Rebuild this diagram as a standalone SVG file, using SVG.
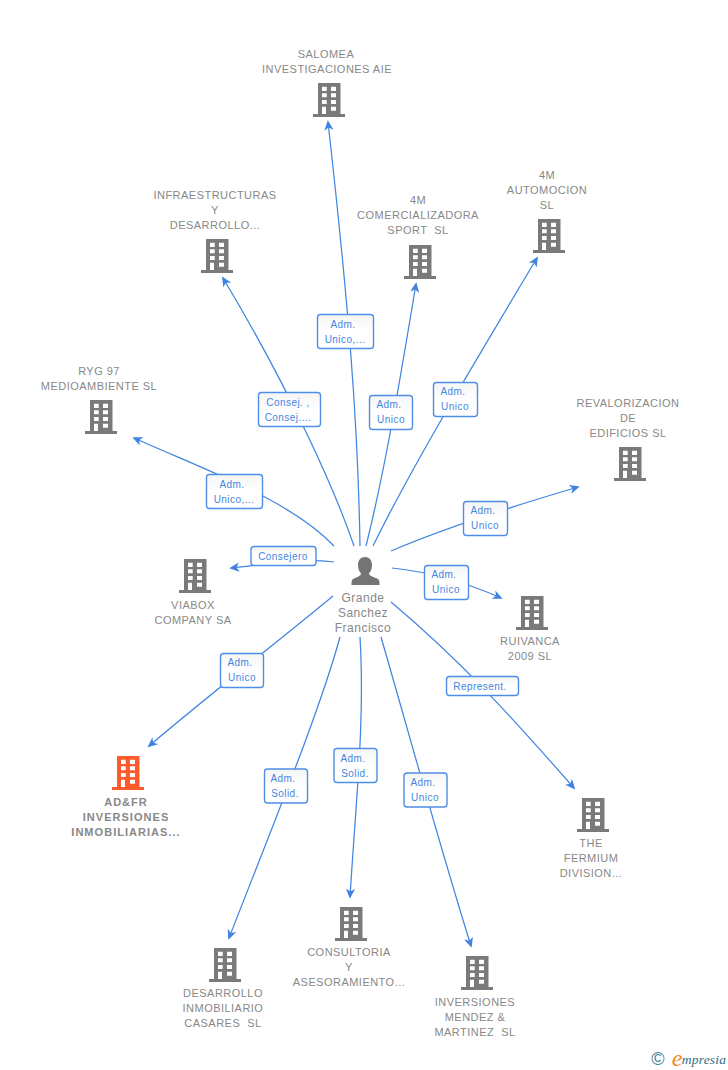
<svg xmlns="http://www.w3.org/2000/svg" width="728" height="1070" viewBox="0 0 728 1070">
<style>
text{font-family:"Liberation Sans",Arial,sans-serif;font-size:11px;fill:#888;text-anchor:middle;letter-spacing:.47px;white-space:pre}
.b{font-weight:bold;letter-spacing:1.03px}
.p{font-size:12px;letter-spacing:.5px}
.c path{fill:none;stroke:#4085e2;stroke-width:1.25}
.a{fill:#3f82e0;stroke:none}
.l rect{fill:url(#g);stroke:#4f8ee6;stroke-width:1.4}
.l text{font-size:10px;fill:#4486e2;letter-spacing:.45px}
</style>
<defs>
<linearGradient id="g" x1="0" y1="0" x2="0" y2="1"><stop offset="0" stop-color="#f5f5f5"/><stop offset=".5" stop-color="#fff"/></linearGradient>
<path id="h" fill-rule="evenodd" d="M-11 0H11.500V31H16V34H-16V31H-11ZM-7 3.700V8H-2.300V3.700ZM2 3.700V8H7V3.700ZM-7 10.300V14.300H-2.300V10.300ZM2 10.300V14.300H7V10.300ZM-7 17V21H-2.300V17ZM2 17V21H7V17ZM-7 23.700V31H-3V23.700ZM2 23.700V27.700H7V23.700Z"/>
<marker id="m" viewBox="0 0 12 12" refX="9" refY="6" markerWidth="11" markerHeight="11" markerUnits="userSpaceOnUse" orient="auto"><path class="a" d="M0 1L11 6L0 11L3 6Z"/></marker>
</defs>
<g class="c">
<path marker-end="url(#m)" d="M360 546C358 420 348 300 328 122"/>
<path marker-end="url(#m)" d="M354 546C335 490 290 390 223 278"/>
<path marker-end="url(#m)" d="M366 546C385 470 400 380 416 284"/>
<path marker-end="url(#m)" d="M373 546C410 470 470 370 537 258"/>
<path marker-end="url(#m)" d="M334 546C290 500 210 472 134 438"/>
<path marker-end="url(#m)" d="M391 551C440 530 500 510 578 487"/>
<path marker-end="url(#m)" d="M334 562C300 558 270 564 231 568"/>
<path marker-end="url(#m)" d="M392 568C430 572 465 582 501 598"/>
<path marker-end="url(#m)" d="M333 596C280 640 215 690 149 746"/>
<path marker-end="url(#m)" d="M391 602C460 660 510 715 574 788"/>
<path marker-end="url(#m)" d="M340 637C320 710 275 820 229 938"/>
<path marker-end="url(#m)" d="M360 637C365 720 356 800 350 897"/>
<path marker-end="url(#m)" d="M381 637C408 730 438 840 471 946"/>
</g>
<g class="l">
<g><rect x="317.500" y="314.500" width="56" height="34" rx="3"/><text x="343" y="328">Adm.</text><text x="345" y="343">Unico,...</text></g>
<g><rect x="258.500" y="392.500" width="62" height="34" rx="3"/><text x="288" y="406">Consej. ,</text><text x="288" y="421">Consej....</text></g>
<g><rect x="369.500" y="395.500" width="43" height="34" rx="3"/><text x="389" y="408">Adm.</text><text x="391" y="423">Unico</text></g>
<g><rect x="433.500" y="382.500" width="44" height="34" rx="3"/><text x="453" y="395">Adm.</text><text x="455" y="410">Unico</text></g>
<g><rect x="206.500" y="474.500" width="56" height="34" rx="3"/><text x="232" y="488">Adm.</text><text x="234" y="503">Unico,...</text></g>
<g><rect x="463.500" y="501.500" width="44" height="34" rx="3"/><text x="483" y="514">Adm.</text><text x="485" y="529">Unico</text></g>
<g><rect x="251" y="546.500" width="65" height="19" rx="3"/><text x="283" y="560">Consejero</text></g>
<g><rect x="424.500" y="565.500" width="44" height="34" rx="3"/><text x="444" y="578">Adm.</text><text x="446" y="593">Unico</text></g>
<g><rect x="220.500" y="653.500" width="43" height="34" rx="3"/><text x="240" y="666">Adm.</text><text x="242" y="681">Unico</text></g>
<g><rect x="446.500" y="676.500" width="72" height="19" rx="3"/><text x="480" y="690">Represent.</text></g>
<g><rect x="264.500" y="769" width="43" height="34" rx="3"/><text x="283" y="782">Adm.</text><text x="285" y="797">Solid.</text></g>
<g><rect x="334" y="748.500" width="43" height="34" rx="3"/><text x="353" y="762">Adm.</text><text x="355" y="777">Solid.</text></g>
<g><rect x="404" y="773" width="43" height="34" rx="3"/><text x="423" y="786">Adm.</text><text x="425" y="801">Unico</text></g>
</g>
<g id="person"><path fill="#757575" d="M365 557C370 557 372 561 372 565C372 569 370.500 572 369 573.500C369 576 374 577 378 579C379.500 580 379.500 582 379.500 585H351.500C351.500 582 351.500 580 353 579C357 577 361 576 361 573.500C359.500 572 358 569 358 565C358 561 360 557 365 557Z"/><text class="p" x="363" y="602">Grande</text><text class="p" x="363" y="617">Sanchez</text><text class="p" x="363" y="632">Francisco</text></g>
<g id="n1" fill="#7a7a7a"><use href="#h" x="329" y="83"/><text x="326" y="58">SALOMEA</text><text x="327" y="73">INVESTIGACIONES AIE</text></g>
<g id="n2" fill="#7a7a7a"><use href="#h" x="217" y="239"/><text x="215" y="199">INFRAESTRUCTURAS</text><text x="215" y="214">Y</text><text x="215" y="229">DESARROLLO...</text></g>
<g id="n3" fill="#7a7a7a"><use href="#h" x="420" y="245"/><text x="418" y="204">4M</text><text x="418" y="219">COMERCIALIZADORA</text><text x="418" y="234">SPORT  SL</text></g>
<g id="n4" fill="#7a7a7a"><use href="#h" x="549" y="219"/><text x="547" y="179">4M</text><text x="547" y="194">AUTOMOCION</text><text x="547" y="209">SL</text></g>
<g id="n5" fill="#7a7a7a"><use href="#h" x="101" y="400"/><text x="99" y="375">RYG 97</text><text x="99" y="390">MEDIOAMBIENTE SL</text></g>
<g id="n6" fill="#7a7a7a"><use href="#h" x="630" y="447"/><text x="628" y="407">REVALORIZACION</text><text x="628" y="422">DE</text><text x="628" y="437">EDIFICIOS SL</text></g>
<g id="n7" fill="#7a7a7a"><use href="#h" x="195" y="559"/><text x="193" y="609">VIABOX</text><text x="193" y="624">COMPANY SA</text></g>
<g id="n8" fill="#7a7a7a"><use href="#h" x="532" y="596"/><text x="530" y="645">RUIVANCA</text><text x="530" y="660">2009 SL</text></g>
<g id="n9" fill="#ff5a2b"><use href="#h" x="128" y="756"/><text class="b" x="126" y="806">AD&amp;FR</text><text class="b" x="126" y="821">INVERSIONES</text><text class="b" x="126" y="836">INMOBILIARIAS...</text></g>
<g id="n10" fill="#7a7a7a"><use href="#h" x="593" y="798"/><text x="591" y="847">THE</text><text x="591" y="862">FERMIUM</text><text x="591" y="877">DIVISION...</text></g>
<g id="n11" fill="#7a7a7a"><use href="#h" x="351" y="907"/><text x="349" y="956">CONSULTORIA</text><text x="349" y="971">Y</text><text x="349" y="986">ASESORAMIENTO...</text></g>
<g id="n12" fill="#7a7a7a"><use href="#h" x="225" y="948"/><text x="223" y="997">DESARROLLO</text><text x="223" y="1012">INMOBILIARIO</text><text x="223" y="1027">CASARES  SL</text></g>
<g id="n13" fill="#7a7a7a"><use href="#h" x="477" y="956"/><text x="475" y="1006">INVERSIONES</text><text x="475" y="1021">MENDEZ &amp;</text><text x="475" y="1036">MARTINEZ  SL</text></g>
<g id="logo"><text x="658" y="1065" style="font-size:18px;fill:#3f7f93;letter-spacing:0">©</text><text x="677" y="1066" style="font-family:'Liberation Serif',serif;font-style:italic;font-size:24px;fill:#f08a1d;letter-spacing:0">e</text><text x="704" y="1064" style="font-family:'Liberation Serif',serif;font-style:italic;font-size:13.500px;fill:#2f6f86;letter-spacing:.2px">mpresia</text></g>
</svg>
